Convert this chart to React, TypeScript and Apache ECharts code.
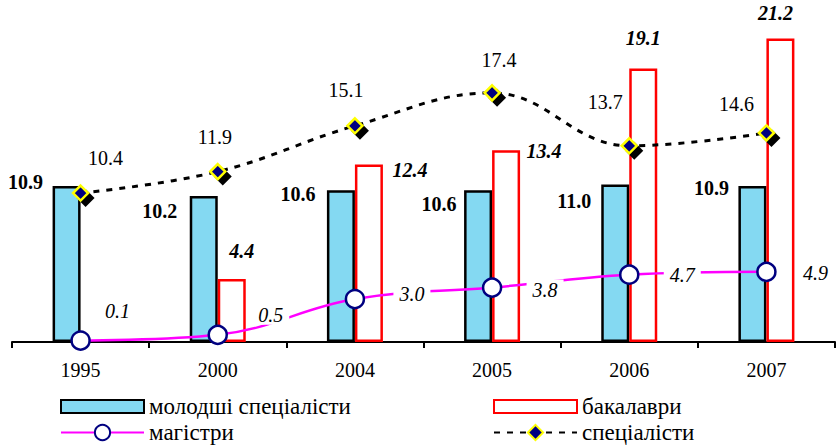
import React, { useEffect, useRef } from "react";
import * as echarts from "echarts";

const years = ["1995", "2000", "2004", "2005", "2006", "2007"];
const juniorSpecialists = [10.9, 10.2, 10.6, 10.6, 11.0, 10.9];
const bachelors = [null, 4.4, 12.4, 13.4, 19.1, 21.2];
const masters = [0.1, 0.5, 3.0, 3.8, 4.7, 4.9];
const specialists = [10.4, 11.9, 15.1, 17.4, 13.7, 14.6];

// label placement (styling only)
const juniorLabelPos = [[-27, -4], [-30, 15], [-29, 4], [-25, 14], [-27, 16], [-27, 2]];
const bachelorLabelPos = [[0, 0], [24, -28], [55, 6], [52, 1], [14, -31], [9, -25]];
const mastersLabelOffset = [[37, -30], [53, -20], [57, -5], [53, 2], [53, 0], [49, 1]];
const specialistsLabelOffset = [[25, -35], [-3, -35], [-9, -36], [7, -33], [-24, -44], [-30, -29]];

const FONT = "Liberation Serif";
const fmt = (p: any) => Number(p.value).toFixed(1);

export default function App() {
  const ref = useRef<HTMLDivElement>(null);
  useEffect(() => {
    if (!ref.current) return;
    const chart = echarts.init(ref.current, undefined, { renderer: "svg" });
    const legendText = { fontSize: 23, fontFamily: FONT, color: "#000" };
    const option: any = {
      animation: false,
      backgroundColor: "#fff",
      textStyle: { fontFamily: FONT },
      grid: { left: 12, right: 2, top: 27, bottom: 103, containLabel: false },
      xAxis: {
        type: "category",
        data: years,
        boundaryGap: true,
        axisLine: { show: true, lineStyle: { color: "#000", width: 2 } },
        axisTick: { show: true, length: 6, inside: false, lineStyle: { color: "#000", width: 2 } },
        axisLabel: { fontSize: 20, fontFamily: FONT, color: "#000", margin: 18 },
        splitLine: { show: false },
      },
      yAxis: { type: "value", min: 0, max: 22, show: false, splitLine: { show: false } },
      legend: [
        {
          data: ["молодші спеціалісти"], left: 60, top: 395, padding: 0,
          itemWidth: 83, itemHeight: 13, icon: "rect", textStyle: legendText,
        },
        {
          data: ["магістри"], left: 60, top: 421, padding: 0,
          itemWidth: 83, itemHeight: 19, textStyle: legendText,
        },
        {
          data: ["бакалаври"], left: 493, top: 395, padding: 0,
          itemWidth: 83, itemHeight: 13, icon: "rect", textStyle: legendText,
        },
        {
          data: ["спеціалісти"], left: 493, top: 421, padding: 0,
          itemWidth: 83, itemHeight: 19, textStyle: legendText,
        },
      ],
      series: [
        {
          name: "молодші спеціалісти",
          type: "bar",
          barWidth: 28,
          barGap: "0%",
          itemStyle: { color: "#84d9f2", borderColor: "#000", borderWidth: 2.5 },
          data: juniorSpecialists.map((v, i) => ({
            value: v,
            label: {
              show: true, position: juniorLabelPos[i], align: "center", verticalAlign: "middle",
              formatter: fmt, fontSize: 20, fontWeight: "bold", fontFamily: FONT, color: "#000",
            },
          })),
        },
        {
          name: "бакалаври",
          type: "bar",
          barWidth: 28,
          barGap: "0%",
          itemStyle: { color: "#fff", borderColor: "#ff0000", borderWidth: 2.5 },
          data: bachelors.map((v, i) => ({
            value: v,
            label: {
              show: v != null, position: bachelorLabelPos[i], align: "center", verticalAlign: "middle",
              formatter: fmt, fontSize: 20, fontWeight: "bold", fontStyle: "italic", fontFamily: FONT, color: "#000",
            },
          })),
        },
        {
          name: "shadow",
          type: "line",
          data: specialists,
          silent: true,
          symbol: "diamond",
          symbolSize: 18,
          symbolOffset: [5, 5],
          showSymbol: true,
          lineStyle: { width: 0, opacity: 0 },
          itemStyle: { color: "#000" },
          label: { show: false },
          z: 3,
        },
        {
          name: "спеціалісти",
          type: "line",
          smooth: 0.4,
          data: specialists.map((v, i) => ({
            value: v,
            label: {
              show: true, position: "inside", offset: specialistsLabelOffset[i],
              formatter: fmt, fontSize: 20, fontFamily: FONT, color: "#000",
            },
          })),
          symbol: "diamond",
          symbolSize: 15,
          showSymbol: true,
          itemStyle: { color: "#000080", borderColor: "#ffff00", borderWidth: 2.5 },
          lineStyle: { color: "#000", width: 3, type: [6, 7] },
          z: 4,
        },
        {
          name: "магістри",
          type: "line",
          smooth: 0.4,
          data: masters.map((v, i) => ({
            value: v,
            label: {
              show: true, position: "inside", offset: mastersLabelOffset[i],
              formatter: fmt, fontSize: 20, fontStyle: "italic", fontFamily: FONT, color: "#000",
              backgroundColor: "#fff", padding: [0, 6],
            },
          })),
          symbol: "circle",
          symbolSize: 18,
          showSymbol: true,
          itemStyle: { color: "#fff", borderColor: "#000080", borderWidth: 2.5 },
          lineStyle: { color: "#ff00ff", width: 2.5 },
          z: 5,
        },
      ],
    };
    chart.setOption(option);
    return () => chart.dispose();
  }, []);
  return (
    <div
      ref={ref}
      style={{ position: "fixed", left: 0, top: 0, width: 837, height: 445, background: "#fff" }}
    />
  );
}
